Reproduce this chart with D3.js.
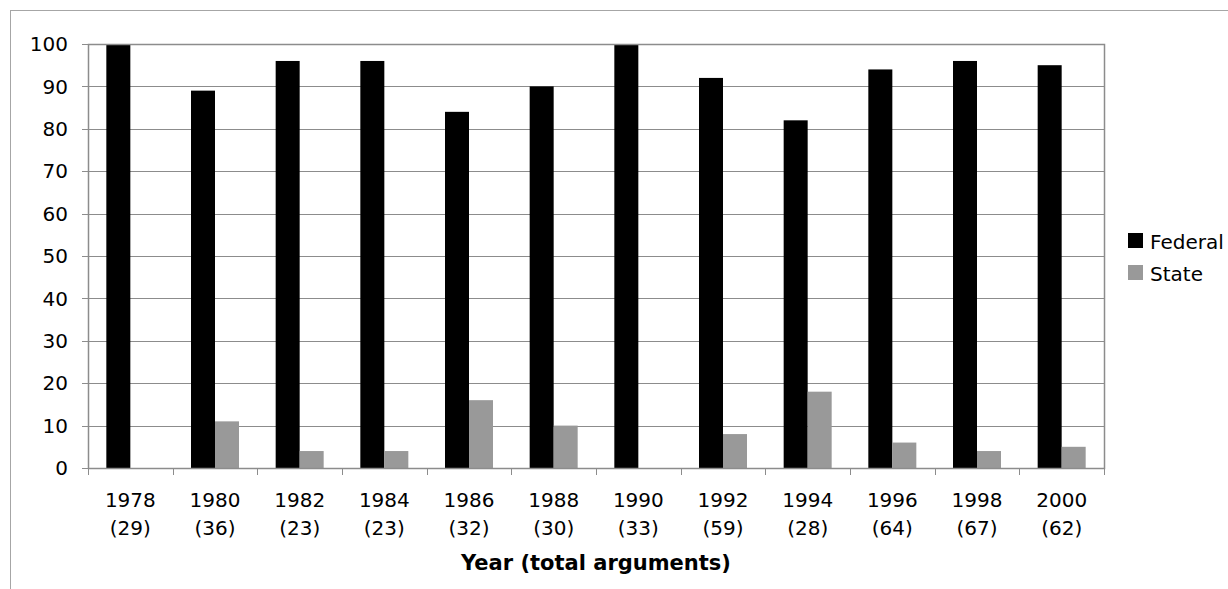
<!DOCTYPE html>
<html>
<head>
<meta charset="utf-8">
<script src="https://cdn.jsdelivr.net/npm/d3@7"></script>
<style>
  body { margin: 0; background: #fff; }
  svg { display: block; font-family: "DejaVu Sans", Verdana, sans-serif; }
</style>
</head>
<body>
<div id="chart"></div>
<script>
// Data
const years = ["1978", "1980", "1982", "1984", "1986", "1988", "1990", "1992", "1994", "1996", "1998", "2000"];
const totals = ["29", "36", "23", "23", "32", "30", "33", "59", "28", "64", "67", "62"];
const federal = [100, 89, 96, 96, 84, 90, 100, 92, 82, 94, 96, 95];
const state = [0, 11, 4, 4, 16, 10, 0, 8, 18, 6, 4, 5];
const seriesNames = ["Federal", "State"];
const seriesColors = ["#000000", "#999999"];
const yTicks = [0, 10, 20, 30, 40, 50, 60, 70, 80, 90, 100];

const W = 1228, H = 589;
const margin = {top: 44, right: 124, bottom: 121, left: 88};
const width = W - margin.left - margin.right,
    height = H - margin.top - margin.bottom;

const root = d3.select("#chart").append("svg")
    .attr("width", W)
    .attr("height", H);

// outer chart frame (runs off the right and bottom edges)
root.append("rect")
    .attr("x", 10.5).attr("y", 10.5)
    .attr("width", W + 10).attr("height", H + 10)
    .attr("fill", "none")
    .attr("stroke", "#a6a6a6");

const svg = root.append("g")
    .attr("transform", `translate(${margin.left},${margin.top})`);

const data = years.map((y, i) => ({year: y, total: totals[i], values: [federal[i], state[i]]}));

// Scales
const x0 = d3.scaleBand()
    .domain(years)
    .range([0, width])
    .paddingInner(0)
    .paddingOuter(0);

const barW = 24;
const x1 = d3.scaleBand()
    .domain(seriesNames)
    .range([x0.bandwidth() / 2 - barW, x0.bandwidth() / 2 + barW]);

const yScale = d3.scaleLinear()
    .domain([0, 100])
    .range([height, 0]);

// Gridlines
svg.append("g")
    .selectAll("line")
    .data(yTicks)
    .enter().append("line")
    .attr("x1", -6)
    .attr("x2", width)
    .attr("y1", d => Math.round(yScale(d)) + 0.5)
    .attr("y2", d => Math.round(yScale(d)) + 0.5)
    .attr("stroke", "#8c8c8c")
    .attr("stroke-width", 1);

// Bars
const groups = svg.selectAll(".grp")
    .data(data)
    .enter().append("g")
    .attr("transform", d => `translate(${x0(d.year)},0)`);

groups.selectAll("rect")
    .data(d => d.values.map((v, i) => ({key: seriesNames[i], value: v, color: seriesColors[i]})))
    .enter().append("rect")
    .attr("x", d => x1(d.key))
    .attr("width", x1.bandwidth())
    .attr("y", d => yScale(d.value))
    .attr("height", d => height - yScale(d.value))
    .attr("fill", d => d.color);

// Plot border
svg.append("rect")
    .attr("x", 0.5).attr("y", 0.5)
    .attr("width", width).attr("height", height)
    .attr("fill", "none")
    .attr("stroke", "#8c8c8c")
    .attr("stroke-width", 1.5);

// Y axis labels
svg.append("g")
    .selectAll("text")
    .data(yTicks)
    .enter().append("text")
    .attr("x", -20)
    .attr("y", d => yScale(d))
    .attr("dy", "0.36em")
    .attr("text-anchor", "end")
    .style("font-size", "20px")
    .text(d => d);

// X axis category tick marks
svg.append("g")
    .selectAll("line")
    .data(years.concat(["end"]))
    .enter().append("line")
    .attr("x1", (d, i) => Math.round(i * x0.step()) + 0.5)
    .attr("x2", (d, i) => Math.round(i * x0.step()) + 0.5)
    .attr("y1", height)
    .attr("y2", height + 7)
    .attr("stroke", "#8c8c8c");

// X axis labels (two lines)
const xl = svg.append("g")
    .selectAll("text")
    .data(data)
    .enter().append("text")
    .attr("text-anchor", "middle")
    .style("font-size", "20px");

xl.append("tspan")
    .attr("x", d => x0(d.year) + x0.bandwidth() / 2)
    .attr("y", height + 39)
    .text(d => d.year);

xl.append("tspan")
    .attr("x", d => x0(d.year) + x0.bandwidth() / 2)
    .attr("y", height + 67)
    .text(d => `(${d.total})`);

// X axis title
svg.append("text")
    .attr("x", width / 2)
    .attr("y", height + 102)
    .attr("text-anchor", "middle")
    .style("font-size", "21px")
    .style("font-weight", "bold")
    .text("Year (total arguments)");

// Legend
const legend = root.append("g")
    .attr("transform", "translate(1128,233)");

seriesNames.forEach((name, i) => {
    const row = legend.append("g")
        .attr("transform", `translate(0, ${i * 32})`);
    row.append("rect")
        .attr("width", 15)
        .attr("height", 15)
        .attr("fill", seriesColors[i]);
    row.append("text")
        .attr("x", 22)
        .attr("y", 16)
        .style("font-size", "20px")
        .text(name);
});
</script>
</body>
</html>
